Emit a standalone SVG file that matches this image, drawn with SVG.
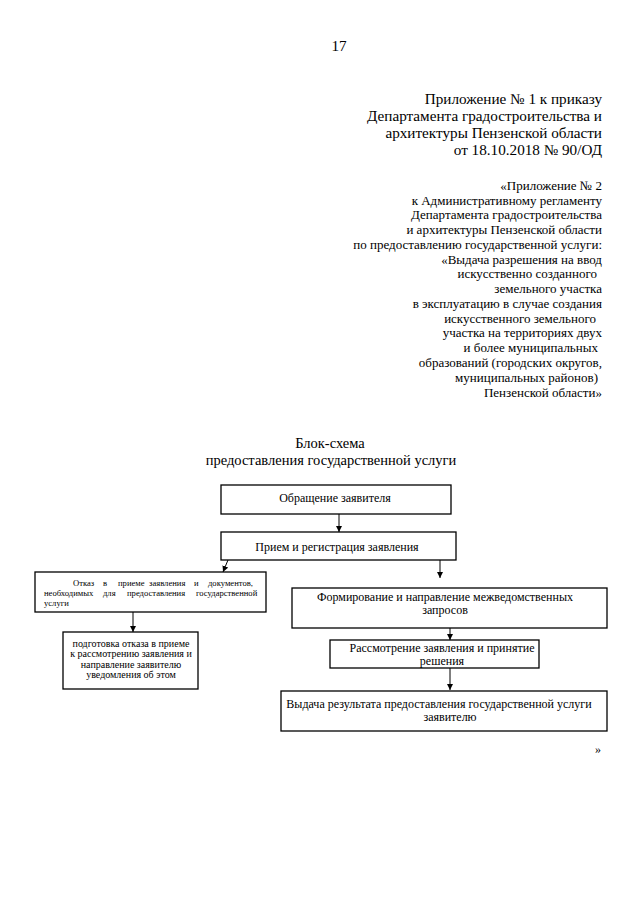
<svg xmlns="http://www.w3.org/2000/svg" width="640" height="905" viewBox="0 0 640 905">
<style>
text{font-family:"Liberation Serif","DejaVu Serif","Times New Roman",serif;fill:#000}
.h{font-size:15.2px}
.r{font-size:13px;text-anchor:end}
.t{font-size:14.5px;text-anchor:middle}
.b{font-size:12px;text-anchor:middle}
.s{font-size:8.6px}
.m{font-size:10px;text-anchor:middle}
.box{fill:#fff;stroke:#000;stroke-width:1.3}
.c{stroke:#000;stroke-width:1;fill:none;marker-end:url(#ah)}
</style>
<defs>
<marker id="ah" viewBox="0 0 10 10" refX="10" refY="5" markerWidth="6" markerHeight="6" markerUnits="userSpaceOnUse" orient="auto">
<path d="M0,0 L10,5 L0,10 Z" fill="#000"/>
</marker>
</defs>
<rect width="640" height="905" fill="#fff"/>
<text class="h" x="339" y="51" text-anchor="middle">17</text>
<g id="header" class="h" text-anchor="end">
<text x="602" y="104">Приложение № 1 к приказу</text>
<text x="602" y="121">Департамента градостроительства и</text>
<text x="602" y="138">архитектуры Пензенской области</text>
<text x="602" y="155">от 18.10.2018 № 90/ОД</text>
</g>
<g id="appendix">
<text class="r" x="602" y="190">«Приложение № 2</text>
<text class="r" x="602" y="205">к Административному регламенту</text>
<text class="r" x="602" y="219">Департамента градостроительства</text>
<text class="r" x="602" y="234">и архитектуры Пензенской области</text>
<text class="r" x="602" y="249">по предоставлению государственной услуги:</text>
<text class="r" x="602" y="264">«Выдача разрешения на ввод</text>
<text class="r" x="597" y="278">искусственно созданного</text>
<text class="r" x="602" y="293">земельного участка</text>
<text class="r" x="602" y="308">в эксплуатацию в случае создания</text>
<text class="r" x="596" y="323">искусственного земельного</text>
<text class="r" x="602" y="337">участка на территориях двух</text>
<text class="r" x="598" y="352">и более муниципальных</text>
<text class="r" x="602" y="367">образований (городских округов,</text>
<text class="r" x="598" y="382">муниципальных районов)</text>
<text class="r" x="602" y="397">Пензенской области»</text>
</g>
<g id="title">
<text class="t" x="330" y="448">Блок-схема</text>
<text class="t" x="331" y="465">предоставления государственной услуги</text>
</g>
<g id="connectors">
<line class="c" x1="339" y1="514" x2="339" y2="532"/>
<line class="c" x1="228" y1="560" x2="223" y2="572"/>
<line class="c" x1="440" y1="560" x2="440" y2="578"/>
<line class="c" x1="133" y1="612" x2="133" y2="632"/>
<line class="c" x1="450" y1="628" x2="450" y2="640"/>
<line class="c" x1="450" y1="668" x2="450" y2="690"/>
</g>
<g id="n1">
<rect class="box" x="221" y="485" width="230" height="29"/>
<text class="b" x="335" y="502">Обращение заявителя</text>
</g>
<g id="n2">
<rect class="box" x="221" y="532" width="235" height="28"/>
<text class="b" x="337" y="551">Прием и регистрация заявления</text>
</g>
<g id="n3">
<rect class="box" x="35" y="572" width="231" height="40"/>
<text class="s" y="586"><tspan x="73">Отказ</tspan><tspan x="103">в</tspan><tspan x="118">приеме</tspan><tspan x="149">заявления</tspan><tspan x="194">и</tspan><tspan x="208">документов,</tspan></text>
<text class="s" y="596"><tspan x="44">необходимых</tspan><tspan x="103">для</tspan><tspan x="127">предоставления</tspan><tspan x="196">государственной</tspan></text>
<text class="s" x="44" y="606">услуги</text>
</g>
<g id="n4">
<rect class="box" x="63" y="632" width="135" height="57"/>
<text class="m" x="131" y="647">подготовка отказа в приеме</text>
<text class="m" x="131" y="657">к рассмотрению заявления и</text>
<text class="m" x="131" y="668">направление заявителю</text>
<text class="m" x="131" y="678">уведомления об этом</text>
</g>
<g id="n5">
<rect class="box" x="292" y="588" width="315" height="40"/>
<text class="b" x="445" y="601" font-size="11.5">Формирование и направление межведомственных</text>
<text class="b" x="445" y="614" font-size="11.5">запросов</text>
</g>
<g id="n6">
<rect class="box" x="330" y="640" width="209" height="28"/>
<text class="b" x="442" y="652" font-size="10.5">Рассмотрение заявления и принятие</text>
<text class="b" x="442" y="665" font-size="10.5">решения</text>
</g>
<g id="n7">
<rect class="box" x="281" y="691" width="326" height="40"/>
<text class="b" x="439" y="708">Выдача результата предоставления государственной услуги</text>
<text class="b" x="450" y="721">заявителю</text>
</g>
<text x="598" y="753" font-size="12" text-anchor="middle">»</text>
</svg>
